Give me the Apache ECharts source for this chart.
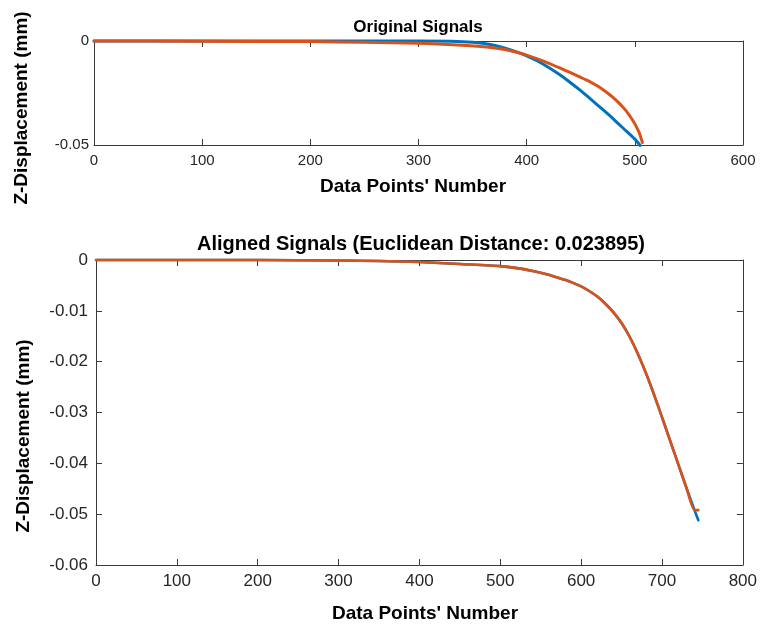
<!DOCTYPE html>
<html>
<head>
<meta charset="utf-8">
<script src="https://cdn.jsdelivr.net/npm/echarts@6/dist/echarts.min.js"></script>
<style>
  html, body { margin: 0; padding: 0; background: #fff; }
  #chart { width: 760px; height: 628px; }
</style>
</head>
<body>
<div id="chart"></div>
<script>
// Original signals (before alignment)
const origBlueX   = [0, 100, 200, 300, 330, 350, 365, 377, 390, 400, 410, 420, 430, 440, 450, 460, 470, 480, 490, 500, 505];
const origBlueY   = [0, 0, 0, 0, -0.0001, -0.0006, -0.0016, -0.003, -0.0051, -0.0071, -0.0096, -0.0126, -0.016, -0.0198, -0.0239, -0.0283, -0.0328, -0.0374, -0.0423, -0.0472, -0.0502];
const origOrangeX = [0, 100, 200, 250, 300, 340, 365, 380, 390, 400, 410, 420, 430, 440, 450, 455, 460, 466, 470, 475, 480, 485, 490, 494, 498, 501, 504, 507];
const origOrangeY = [0, -0.0001, -0.0003, -0.0006, -0.0011, -0.0021, -0.003, -0.0041, -0.0053, -0.0068, -0.0086, -0.0106, -0.0128, -0.0151, -0.0175, -0.0187, -0.02, -0.0218, -0.0232, -0.0251, -0.0272, -0.0296, -0.0324, -0.035, -0.0381, -0.0408, -0.044, -0.0488];

// Aligned signals (after warping)
const alignedOrangeX = [0, 100, 200, 300, 350, 400, 450, 500, 525, 550, 560, 570, 580, 590, 600, 610, 620, 630, 640, 650, 660, 670, 680, 690, 700, 710, 720, 730, 740, 745];
const alignedOrangeY = [0, 0, 0, -0.0001, -0.0002, -0.0004, -0.0008, -0.0012, -0.0017, -0.0025, -0.0029, -0.0034, -0.0039, -0.0045, -0.0052, -0.0061, -0.0072, -0.0086, -0.0103, -0.0124, -0.0151, -0.0184, -0.0222, -0.0264, -0.0309, -0.0355, -0.0401, -0.0447, -0.0492, -0.0492];
const alignedBlueX   = [0, 100, 200, 300, 350, 400, 450, 500, 525, 550, 560, 570, 580, 590, 600, 610, 620, 630, 640, 650, 660, 670, 680, 690, 700, 710, 720, 730, 740, 745];
const alignedBlueY   = [0, 0, 0, -0.0001, -0.0002, -0.0004, -0.0008, -0.0012, -0.0017, -0.0025, -0.0029, -0.0034, -0.0039, -0.0045, -0.0052, -0.0061, -0.0072, -0.0086, -0.0103, -0.0124, -0.0151, -0.0184, -0.0222, -0.0264, -0.0309, -0.0355, -0.0401, -0.0447, -0.0491, -0.0512];

// Axis settings
const topXTicks = { min: 0, max: 600, interval: 100 };
const topYTicks = { min: -0.05, max: 0, interval: 0.05 };
const botXTicks = { min: 0, max: 800, interval: 100 };
const botYTicks = { min: -0.06, max: 0, interval: 0.01 };

const titleTop = 'Original Signals';
const titleBottom = 'Aligned Signals (Euclidean Distance: 0.023895)';
const xLabel = "Data Points' Number";
const yLabel = 'Z-Displacement (mm)';

const BLUE = '#0072BD';
const ORANGE = '#D95319';
const AXIS = '#3a3a3a';
const FONT = '"Liberation Sans", Arial, Helvetica, sans-serif';

const pairs = (xs, ys) => xs.map((x, i) => [x, ys[i]]);
const fmt = v => (Math.abs(v) < 1e-12 ? '0' : String(+v.toFixed(2)));

function axis(kind, grid, ticks, position, labelSize, labelMargin, showLabel) {
  return {
    type: 'value',
    gridIndex: grid,
    position: position,
    min: ticks.min, max: ticks.max, interval: ticks.interval,
    axisLine: { show: true, onZero: false, lineStyle: { color: AXIS, width: 1 } },
    axisTick: { show: true, inside: true, length: 6, lineStyle: { color: AXIS, width: 1 } },
    axisLabel: {
      show: showLabel, color: '#262626', fontFamily: FONT, fontSize: labelSize,
      margin: labelMargin, formatter: kind === 'y' ? fmt : (v => String(v))
    },
    splitLine: { show: false }
  };
}

function line(name, xi, yi, data, color, width) {
  return {
    name: name, type: 'line', xAxisIndex: xi, yAxisIndex: yi,
    data: data, showSymbol: false, symbol: 'none', clip: false,
    smooth: 0.2,
    lineStyle: { color: color, width: width, cap: 'round', join: 'round' },
    itemStyle: { color: color }, animation: false
  };
}

function txt(x, y, text, size, rotate) {
  return {
    type: 'text', x: x, y: y, rotation: rotate ? Math.PI / 2 : 0,
    style: {
      text: text, fill: '#000', font: 'bold ' + size + 'px ' + FONT,
      align: 'center', verticalAlign: 'middle'
    }
  };
}

const chart = echarts.init(document.getElementById('chart'), null, { renderer: 'canvas' });
chart.setOption({
  backgroundColor: '#fff',
  animation: false,
  grid: [
    { left: 94, top: 41, width: 649, height: 104 },
    { left: 96, top: 260, width: 648, height: 305 }
  ],
  xAxis: [
    axis('x', 0, topXTicks, 'bottom', 15, 8, true),
    axis('x', 0, topXTicks, 'top', 15, 8, false),
    axis('x', 1, botXTicks, 'bottom', 17, 8, true),
    axis('x', 1, botXTicks, 'top', 17, 8, false)
  ],
  yAxis: [
    axis('y', 0, topYTicks, 'left', 15, 5, true),
    axis('y', 0, topYTicks, 'right', 15, 5, false),
    axis('y', 1, botYTicks, 'left', 17, 8, true),
    axis('y', 1, botYTicks, 'right', 17, 8, false)
  ],
  series: [
    line('Signal 1', 0, 0, pairs(origBlueX, origBlueY), BLUE, 3),
    line('Signal 2', 0, 0, pairs(origOrangeX, origOrangeY), ORANGE, 3),
    line('Signal 1 aligned', 2, 2, pairs(alignedBlueX, alignedBlueY), BLUE, 2.6),
    line('Signal 2 aligned', 2, 2, pairs(alignedOrangeX, alignedOrangeY), ORANGE, 2.6)
  ],
  graphic: [
    txt(418, 27, titleTop, 17, false),
    txt(413, 187, xLabel, 19, false),
    txt(22, 108, yLabel, 19, true),
    txt(421, 244, titleBottom, 20, false),
    txt(425, 614, xLabel, 19, false),
    txt(24, 436, yLabel, 19, true)
  ]
});
</script>
</body>
</html>
